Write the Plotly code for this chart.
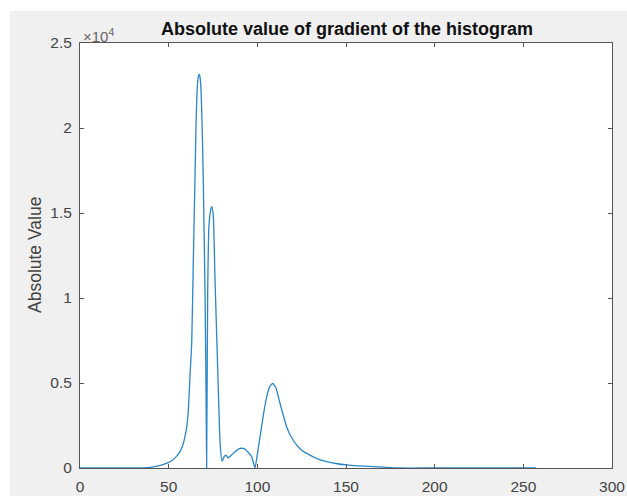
import plotly.graph_objects as go

# Data (x = intensity bin, y = |gradient|)
x_vals = [0, 10, 20, 30, 38.3, 44, 47.5, 50.8, 53.5, 56.4, 58, 59.2, 60.2, 61.1,
          62, 63, 63.9, 64.9, 65.5, 66.2, 66.8, 67.3, 67.8, 68.4, 69, 69.5, 70.5,
          71.1, 71.4, 72.0, 72.7, 73.7, 74.4, 75.2, 76.1, 77.5, 79, 80.1, 81.2,
          82.3, 83.5, 85, 87.4, 90.2, 92, 93.6, 95.3, 96.8, 98.7, 100, 102.4, 104,
          105.3, 107, 108.7, 110.5, 112.8, 116.5, 119, 122.2, 125.5, 129.7, 134,
          139.1, 145, 150.4, 157, 163.5, 180, 200, 220, 240, 257]
y_vals = [0, 0, 0, 0, 20, 130, 230, 370, 580, 960, 1350, 1840, 2430, 3400,
          5370, 7350, 12200, 17350, 20500, 22500, 23050, 23150, 22900, 21800, 19500,
          17100, 10300, 4400, 0, 10300, 14200, 15180, 15370, 14800, 11250, 6350,
          1470, 390, 650, 760, 600, 720, 960, 1150, 1150, 1060, 870, 670, 0, 800,
          2430, 3500, 4200, 4800, 4980, 4700, 3800, 2430, 1850, 1350, 1000, 760,
          540, 370, 250, 180, 130, 100, 0, 0, 0, 0, 0]

x_ticks = [0, 50, 100, 150, 200, 250, 300]
y_ticks = [0, 5000, 10000, 15000, 20000, 25000]
y_tick_text = ["0", "0.5", "1", "1.5", "2", "2.5"]

title_text = "Absolute value of gradient of the histogram"
y_label = "Absolute Value"

W, H = 627, 496
L, R, T, B = 80, 15, 43, 28
pw, ph = W - L - R, H - T - B
FONT = "Liberation Sans, Arial, sans-serif"

def px_x(px):
    return (px - L) / pw

def px_y(py):
    return (H - B - py) / ph

fig = go.Figure()
fig.add_trace(go.Scatter(x=x_vals, y=y_vals, mode="lines",
                         line=dict(color="#2a86c8", width=1.3, shape="spline",
                                   smoothing=0.4),
                         showlegend=False, hoverinfo="skip"))

axis_common = dict(showgrid=False, zeroline=False, showline=True,
                   linecolor="#555555", linewidth=1, mirror="ticks",
                   ticks="inside", ticklen=4, tickcolor="#555555",
                   automargin=False,
                   tickfont=dict(family=FONT, size=15.5, color="#444444"))

fig.update_layout(
    width=W, height=H,
    margin=dict(l=L, r=R, t=T, b=B, pad=0),
    paper_bgcolor="#f0f0f0",
    plot_bgcolor="white",
    xaxis=dict(range=[0, 300], tickvals=x_ticks, ticklabelstandoff=4,
               **axis_common),
    yaxis=dict(range=[0, 25000], tickvals=y_ticks, ticktext=y_tick_text,
               ticklabelstandoff=4, **axis_common),
    title=dict(text="<b>" + title_text + "</b>", x=px_x(347), xanchor="center",
               xref="paper", y=1 - 29 / H, yanchor="middle", automargin=False,
               font=dict(family=FONT, size=18, color="#111111")),
    shapes=[
        dict(type="rect", xref="paper", yref="paper", x0=px_x(0), x1=px_x(W),
             y0=px_y(11), y1=px_y(0), fillcolor="#ffffff", line=dict(width=0),
             layer="above"),
        dict(type="rect", xref="paper", yref="paper", x0=px_x(0), x1=px_x(10),
             y0=px_y(H), y1=px_y(0), fillcolor="#ffffff", line=dict(width=0),
             layer="above"),
    ],
    annotations=[
        dict(text=y_label, xref="paper", yref="paper", x=px_x(35), y=px_y(255),
             xanchor="center", yanchor="middle", textangle=-90, showarrow=False,
             font=dict(family=FONT, size=17.5, color="#444444")),
        dict(text="\u00d710<sup>4</sup>", xref="paper", yref="paper",
             x=px_x(81), y=px_y(35), xanchor="left", yanchor="middle",
             showarrow=False,
             font=dict(family=FONT, size=15, color="#666666")),
    ],
)

fig.write_html("out.html", config={"displayModeBar": False},
               post_script="document.body.style.margin='0';document.body.style.overflow='hidden';")
